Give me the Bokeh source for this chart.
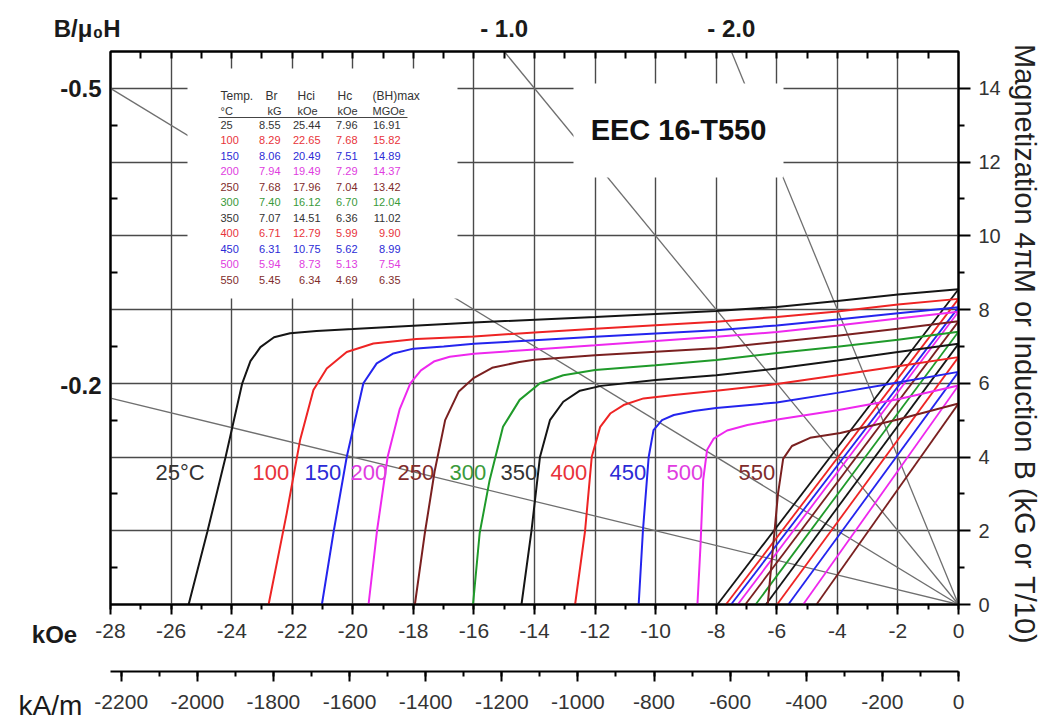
from bokeh.plotting import figure
from bokeh.models import (LinearAxis, Range1d, SingleIntervalTicker, FixedTicker,
                          Grid, Label, NumeralTickFormatter)
from bokeh.core.properties import value
from bokeh.embed import file_html
from bokeh.resources import INLINE

temps = [25, 100, 150, 200, 250, 300, 350, 400, 450, 500, 550]
br = [8.55, 8.29, 8.06, 7.94, 7.68, 7.40, 7.07, 6.71, 6.31, 5.94, 5.45]
hci = [25.44, 22.65, 20.49, 19.49, 17.96, 16.12, 14.51, 12.79, 10.75, 8.73, 6.34]
hc = [7.96, 7.68, 7.51, 7.29, 7.04, 6.70, 6.36, 5.99, 5.62, 5.13, 4.69]
bhmax = [16.91, 15.82, 14.89, 14.37, 13.42, 12.04, 11.02, 9.90, 8.99, 7.54, 6.35]

# intrinsic (4piM) curves: H in kOe, J in kG
j25_h = [0, -2, -4, -6, -8, -12, -16, -18, -20, -21.2, -22.07, -22.6, -23.05, -23.38, -23.65, -24.2, -24.8, -25.42]
j25_b = [8.55, 8.41, 8.23, 8.07, 7.96, 7.8, 7.65, 7.56, 7.47, 7.42, 7.36, 7.25, 6.98, 6.6, 6.0, 4.0, 1.98, 0]
j100_h = [0, -2, -4, -6, -8, -12, -14, -16, -17.9, -19.32, -20.2, -20.86, -21.3, -21.74, -22.18, -22.78]
j100_b = [8.29, 8.14, 7.95, 7.8, 7.67, 7.48, 7.38, 7.27, 7.2, 7.08, 6.85, 6.4, 5.82, 4.46, 2.48, 0]
j150_h = [0, -2, -4, -6, -8, -12, -14, -16, -17, -18, -18.66, -19.21, -19.65, -20.2, -20.64, -21.02]
j150_b = [8.06, 7.9, 7.73, 7.57, 7.44, 7.26, 7.17, 7.07, 7.0, 6.94, 6.81, 6.54, 6.0, 4.0, 1.94, 0]
j200_h = [0, -2, -4, -6, -8, -12, -14, -16, -16.8, -17.3, -17.75, -18.1, -18.45, -18.85, -19.2, -19.48]
j200_b = [7.94, 7.76, 7.57, 7.39, 7.26, 7.03, 6.92, 6.8, 6.72, 6.6, 6.35, 6.0, 5.3, 4.0, 2.0, 0]
j250_h = [0, -2, -4, -6, -8, -12, -14, -14.5, -15.4, -16, -16.5, -16.95, -17.3, -17.62, -17.95]
j250_b = [7.68, 7.48, 7.29, 7.12, 6.95, 6.76, 6.64, 6.58, 6.42, 6.15, 5.78, 5.0, 3.6, 1.94, 0]
j300_h = [0, -2, -4, -6, -8, -10, -12, -13.05, -13.82, -14.49, -15.04, -15.48, -15.81, -16.03]
j300_b = [7.4, 7.18, 6.99, 6.82, 6.63, 6.49, 6.36, 6.22, 6.0, 5.55, 4.82, 3.38, 1.94, 0]
j350_h = [0, -2, -4, -6, -8, -10, -11.8, -12.5, -13.05, -13.49, -13.82, -14.1, -14.43]
j350_b = [7.07, 6.85, 6.62, 6.4, 6.22, 6.09, 5.93, 5.8, 5.5, 5.0, 4.0, 2.0, 0]
j400_h = [0, -2, -4, -6, -8, -9.4, -10.4, -11.06, -11.5, -11.83, -12.11, -12.33, -12.66]
j400_b = [6.71, 6.46, 6.22, 5.98, 5.8, 5.68, 5.59, 5.41, 5.18, 4.82, 4.0, 2.0, 0]
j450_h = [0, -2, -4, -6, -8, -8.74, -9.4, -9.79, -10.07, -10.23, -10.42, -10.56]
j450_b = [6.31, 6.02, 5.74, 5.48, 5.33, 5.25, 5.14, 5.0, 4.73, 4.0, 2.0, 0]
j500_h = [0, -2, -4, -5.87, -6.97, -7.64, -8.08, -8.3, -8.43, -8.52, -8.62]
j500_b = [5.94, 5.57, 5.27, 5.03, 4.87, 4.72, 4.5, 4.2, 3.38, 1.58, 0]
j550_h = [0, -2, -3.9, -4.9, -5.5, -5.79, -5.96, -6.3]
j550_b = [5.45, 5.02, 4.65, 4.52, 4.3, 3.95, 3.0, 0]

# permeance (load) lines B/mu0H
load_slopes = [-0.2, -0.5, -1.0, -2.0]
load_left = ["-0.5", "-0.2"]        # labelled on the left edge
load_top = ["- 1.0", "- 2.0"]       # labelled on the top edge

curve_labels = ["25°C", "100", "150", "200", "250", "300", "350", "400", "450", "500", "550"]

# ---------------- styles / layout ----------------
FONT = "Liberation Sans"
line_cols = ["#151515", "#ee2424", "#2424ee", "#ee28ee", "#7a2020", "#1f9a2a",
             "#151515", "#ee2424", "#2424ee", "#ee28ee", "#7a2020"]
text_cols = ["#333333", "#e8333a", "#2b2bd6", "#e03ce0", "#7f2c2c", "#3a9a3a",
             "#333333", "#e8333a", "#2b2bd6", "#e03ce0", "#7f2c2c"]
j_h = [j25_h, j100_h, j150_h, j200_h, j250_h, j300_h, j350_h, j400_h, j450_h, j500_h, j550_h]
j_b = [j25_b, j100_b, j150_b, j200_b, j250_b, j300_b, j350_b, j400_b, j450_b, j500_b, j550_b]

XMIN, XMAX, YMIN, YMAX = -28, 0, 0, 15
FL, FR, FT, FB = 110, 958, 51, 604   # frame edges in canvas pixels
NBSP = "\u00a0"


def dx(px):
    return XMIN + (px - FL) * (XMAX - XMIN) / (FR - FL)


def dy(py):
    return YMAX - (py - FT) * (YMAX - YMIN) / (FB - FT)


def key(v):
    v = round(v, 3)
    return int(v) if v == int(v) else v


p = figure(width=1046, height=720, x_range=Range1d(XMIN, XMAX), y_range=Range1d(YMIN, YMAX),
           output_backend="svg", toolbar_location=None, x_axis_type=None, y_axis_type=None,
           min_border_left=FL, min_border_right=1046 - FR, min_border_top=FT,
           min_border_bottom=720 - FB)
p.outline_line_color = "black"
p.outline_line_width = 2
p.background_fill_color = "white"
p.border_fill_color = "white"

# grid
for dim in (0, 1):
    g = Grid(dimension=dim, ticker=SingleIntervalTicker(interval=2),
             grid_line_color="#4a4a4a", grid_line_width=1.4)
    p.add_layout(g)

# load lines from origin to the frame border
load_end = []
for s in load_slopes:
    k = abs(s)
    if -XMIN * k <= YMAX:
        ex, ey = XMIN, -XMIN * k
    else:
        ex, ey = -YMAX / k, YMAX
    load_end.append((ex, ey))
    p.line([0, ex], [0, ey], line_color="#6f6f6f", line_width=1.3)

# white areas behind the table and the title
p.quad(left=dx(187), right=dx(457), top=dy(68), bottom=dy(298), fill_color="white", line_color=None)
p.quad(left=dx(573), right=dx(783), top=dy(83), bottom=dy(177), fill_color="white", line_color=None)

# curves
for i in range(len(temps)):
    p.line(j_h[i], j_b[i], line_color=line_cols[i], line_width=2)
    p.line([0, -hc[i]], [br[i], 0], line_color=line_cols[i], line_width=1.8)

# curve labels
label_px = [155, 252, 304, 350, 397, 449, 500, 550, 609, 666, 738]
p.text(x=[dx(v) for v in label_px], y=[dy(472)] * len(label_px), text=curve_labels,
       text_color=text_cols, text_font=value(FONT), text_font_size="22px",
       text_align="left", text_baseline="middle")

# table
head = ["Temp.", "Br", "Hci", "Hc", "(BH)max"]
units = ["°C", "kG", "kOe", "kOe", "MGOe"]
head_px = [220, 265, 297, 337, 372]
units_px = [220, 267, 297, 337, 372]
p.text(x=[dx(v) for v in head_px], y=[dy(95)] * 5, text=head, text_color="#333333",
       text_font=value(FONT), text_font_size="12px", text_align="left", text_baseline="middle")
p.text(x=[dx(v) for v in units_px], y=[dy(110)] * 5, text=units, text_color="#333333",
       text_font=value(FONT), text_font_size="11px", text_align="left", text_baseline="middle")
p.line([dx(218), dx(407)], [dy(117), dy(117)], line_color="#444444", line_width=1)
row_y = [dy(124 + i * 15.5) for i in range(len(temps))]
p.text(x=[dx(220)] * len(temps), y=row_y, text=[str(t) for t in temps], text_color=text_cols,
       text_font=value(FONT), text_font_size="11px", text_align="left", text_baseline="middle")
for vals, rpx in ((br, 280), (hci, 320), (hc, 357), (bhmax, 400)):
    p.text(x=[dx(rpx)] * len(vals), y=row_y, text=[f"{v:.2f}" for v in vals], text_color=text_cols,
           text_font=value(FONT), text_font_size="11px", text_align="right", text_baseline="middle")

# title box text
p.text(x=[dx(678)], y=[dy(129)], text=["EEC 16-T550"], text_color="#111111",
       text_font=value(FONT), text_font_size="29px", text_font_style="bold",
       text_align="center", text_baseline="middle")

# ---------------- axes ----------------
lab_col = "#333333"

ax_koe = LinearAxis(ticker=SingleIntervalTicker(interval=2, num_minor_ticks=2),
                    formatter=NumeralTickFormatter(format="0"),
                    major_tick_out=10, major_tick_in=0, minor_tick_out=5, minor_tick_in=0,
                    axis_line_width=2, major_tick_line_width=2, minor_tick_line_width=2,
                    major_label_text_font=FONT, major_label_text_font_size="21px",
                    major_label_text_color=lab_col, major_label_standoff=9)
p.add_layout(ax_koe, "below")

# "kA/m" caption, kept in the bottom panel between the two scales
p.add_layout(Label(x=dx(50), y=dy(705), text="kA/m", text_font=FONT, text_font_size="28px",
                   text_color="#1a1a1a", text_align="center", text_baseline="middle"), "below")

p.extra_x_ranges = {"kam": Range1d(XMIN * 79.5775, 0)}
ax_kam = LinearAxis(x_range_name="kam", ticker=SingleIntervalTicker(interval=200, num_minor_ticks=2),
                    formatter=NumeralTickFormatter(format="0"),
                    major_tick_out=10, major_tick_in=0, minor_tick_out=5, minor_tick_in=0,
                    axis_line_width=2, major_tick_line_width=2, minor_tick_line_width=2,
                    major_label_text_font=FONT, major_label_text_font_size="21px",
                    major_label_text_color=lab_col, major_label_standoff=13)
p.add_layout(ax_kam, "below")

# top edge: 1 kOe ticks, the axis caption and the labels of the steep load lines
top_pos = [XMIN] + [load_end[i][0] for i in range(len(load_slopes)) if load_end[i][1] >= YMAX]
top_txt = ["B/μ₀H" + NBSP * 7] + load_top
ax_top = LinearAxis(ticker=FixedTicker(ticks=top_pos, minor_ticks=list(range(XMIN + 1, XMAX))),
                    major_label_overrides={key(v): t for v, t in zip(top_pos, top_txt)},
                    major_tick_in=0, major_tick_out=0, minor_tick_in=7, minor_tick_out=0,
                    axis_line_width=2, minor_tick_line_width=2,
                    major_label_text_font=FONT, major_label_text_font_size="24px",
                    major_label_text_font_style="bold", major_label_text_color="#1a1a1a",
                    major_label_standoff=10)
p.add_layout(ax_top, "above")

# left edge: minor ticks and the labels of the shallow load lines
left_pos = [14, 5.93]
ax_left = LinearAxis(ticker=FixedTicker(ticks=left_pos, minor_ticks=list(range(1, 15, 2))),
                     major_label_overrides={key(v): t for v, t in zip(left_pos, load_left)},
                     major_tick_in=0, major_tick_out=0, minor_tick_in=7, minor_tick_out=0,
                     axis_line_width=2, minor_tick_line_width=2,
                     major_label_text_font=FONT, major_label_text_font_size="24px",
                     major_label_text_font_style="bold", major_label_text_color="#1a1a1a",
                     major_label_standoff=9)
p.add_layout(ax_left, "left")

# "kOe" caption, kept in the left panel
p.add_layout(Label(x=dx(54), y=dy(634), text="kOe", text_font=FONT, text_font_size="24px",
                   text_font_style="bold", text_color="#1a1a1a",
                   text_align="center", text_baseline="middle"), "left")

ax_right = LinearAxis(ticker=FixedTicker(ticks=list(range(0, 15, 2)), minor_ticks=list(range(1, 15, 2))),
                      formatter=NumeralTickFormatter(format="0"),
                      major_tick_out=12, major_tick_in=0, minor_tick_out=6, minor_tick_in=0,
                      axis_line_width=2, major_tick_line_width=2, minor_tick_line_width=2,
                      major_label_text_font=FONT, major_label_text_font_size="20px",
                      major_label_text_color=lab_col, major_label_standoff=8,
                      axis_label=NBSP * 4 + "Magnetization 4πM or Induction B (kG or T/10)",
                      axis_label_text_font=FONT, axis_label_text_font_size="29px",
                      axis_label_text_font_style="normal", axis_label_text_color="#222222",
                      axis_label_standoff=5)
p.add_layout(ax_right, "right")

open("out.html", "w").write(file_html(p, INLINE))
